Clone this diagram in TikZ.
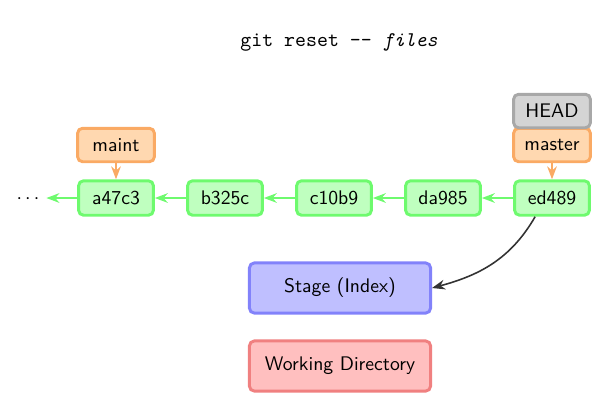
\documentclass[tikz,border=0pt]{standalone}
\usepackage{tikz}
\usetikzlibrary{arrows.meta, positioning}
\usepackage{color}
\definecolor{commit_fill}{RGB}{191,255,191}
\definecolor{commit_line}{RGB}{110,250,110}
\definecolor{branch_fill}{RGB}{255,216,176}
\definecolor{branch_line}{RGB}{250,170,100}
\definecolor{head_fill}{RGB}{212,212,212}
\definecolor{head_line}{RGB}{168,168,168}
\definecolor{stage_fill}{RGB}{191,191,255}
\definecolor{stage_line}{RGB}{130,130,250}
\definecolor{work_fill}{RGB}{255,191,191}
\definecolor{work_line}{RGB}{240,128,128}

\begin{document}
\begin{tikzpicture}[x=0.508pt, y=-0.508pt, >={Stealth},
    every node/.style={font=\sffamily},
    box/.style={rectangle, rounded corners=2.5pt, line width=1.5pt, inner sep=0pt},
    commit/.style={box, draw=commit_line, fill=commit_fill, minimum width=38pt, minimum height=17.5pt},
    branch/.style={box, draw=branch_line, fill=branch_fill, minimum width=39pt, minimum height=17pt},
    headbox/.style={box, draw=head_line, fill=head_fill, minimum width=39pt, minimum height=17pt},
    area/.style={box, minimum width=92pt, minimum height=25.5pt}]
      \useasboundingbox (0,0) rectangle (612,406);
      \node[font=\ttfamily\fontsize{10.6}{12}\selectfont] (title) at (339,42) {git reset -- \textit{files}};
      % commits
      \node[commit] (a47c3) at (116,198) {a47c3};
      \node[commit] (b325c) at (225,198) {b325c};
      \node[commit] (c10b9) at (334,198) {c10b9};
      \node[commit] (da985) at (443,198) {da985};
      \node[commit] (ed489) at (552,198) {ed489};
      \node (dots) at (28,199) {$\cdots$};
      % branches
      \node[branch] (maint) at (116,145) {maint};
      \node[branch] (master) at (552,145) {master};
      \node[headbox] (head) at (552,111) {HEAD};
      % trees
      \node[area, draw=stage_line, fill=stage_fill] (stage) at (340,288) {Stage (Index)};
      \node[area, draw=work_line, fill=work_fill] (work) at (340,366) {Working Directory};
      \draw[->, commit_line, thick] (a47c3) -- (dots.east |- a47c3);
      \draw[->, commit_line, thick] (b325c) -- (a47c3);
      \draw[->, commit_line, thick] (c10b9) -- (b325c);
      \draw[->, commit_line, thick] (da985) -- (c10b9);
      \draw[->, commit_line, thick] (ed489) -- (da985);
      \draw[->, branch_line, thick] (maint) -- (a47c3);
      \draw[->, branch_line, thick] (master) -- (ed489);
      \draw[->, black!80, thick] (ed489.south west) ++(22,0) coordinate (from)
        (from) to[out=-120, in=15] (stage.east);
    \end{tikzpicture}
\end{document}
